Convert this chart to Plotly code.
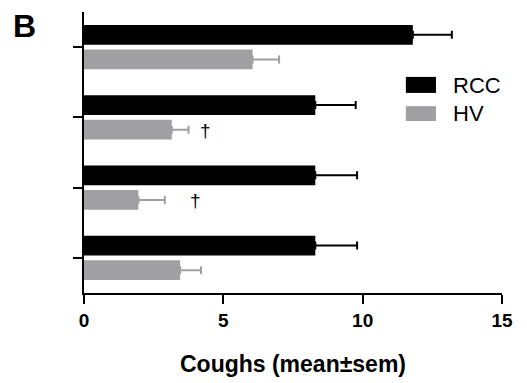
import plotly.graph_objects as go

categories = ["G1", "G2", "G3", "G4"]
rcc_mean = [11.8, 8.3, 8.3, 8.3]
rcc_sem = [1.4, 1.45, 1.5, 1.5]
hv_mean = [6.05, 3.15, 1.95, 3.45]
hv_sem = [0.95, 0.6, 0.95, 0.75]
sig_marks = ["", "†", "†", ""]
sig_x = [None, 4.35, 4.0, None]

FONT = "Arial, Liberation Sans, Helvetica, sans-serif"
GRAY = "#a0a0a2"

fig = go.Figure()
fig.add_trace(go.Bar(
    name="RCC", y=categories, x=rcc_mean, orientation="h",
    marker=dict(color="black", line=dict(width=0)),
    error_x=dict(type="data", array=rcc_sem, symmetric=False,
                 arrayminus=[0] * len(rcc_sem), color="black", thickness=2, width=4),
    showlegend=False,
))
fig.add_trace(go.Bar(
    name="HV", y=categories, x=hv_mean, orientation="h",
    marker=dict(color=GRAY, line=dict(width=0)),
    error_x=dict(type="data", array=hv_sem, symmetric=False,
                 arrayminus=[0] * len(hv_sem), color=GRAY, thickness=2, width=4),
    showlegend=False,
))

for c, m, sx in zip(categories, sig_marks, sig_x):
    if m:
        fig.add_annotation(x=sx, y=c, xref="x", yref="y", text=m, showarrow=False,
                           yshift=-13, font=dict(family=FONT, size=19, color="#000000"))

# panel letter
fig.add_annotation(x=-0.175, y=1.02, xref="paper", yref="paper", text="<b>B</b>",
                   showarrow=False, xanchor="left", yanchor="top",
                   font=dict(family=FONT, size=32, color="black"))

# legend
for name, col, y0, y1, yc in [("RCC", "black", 0.712, 0.769, 0.740),
                              ("HV", GRAY, 0.612, 0.665, 0.639)]:
    fig.add_shape(type="rect", xref="paper", yref="paper", x0=0.770, x1=0.842,
                  y0=y0, y1=y1, fillcolor=col, line=dict(width=0))
    fig.add_annotation(x=0.878, y=yc, xref="paper", yref="paper", text=name,
                       showarrow=False, xanchor="left", yanchor="middle",
                       font=dict(family=FONT, size=22, color="black"))

# page body has an 8px default margin; size the figure so the plot lands in place
fig.update_layout(
    width=519, height=375,
    margin=dict(l=76, r=25, t=4, b=90),
    paper_bgcolor="white", plot_bgcolor="white",
    barmode="group", bargap=0.3, bargroupgap=0.2,
    font=dict(family=FONT, color="black"),
    xaxis=dict(range=[0, 15], tickvals=[0, 5, 10, 15], showgrid=False, zeroline=False,
               showline=True, linecolor="black", linewidth=2,
               ticks="outside", ticklen=9, tickwidth=2, tickcolor="black",
               tickfont=dict(family=FONT, size=19, weight="bold", color="black"),
               title=dict(text="Coughs (mean±sem)", standoff=26,
                          font=dict(family=FONT, size=23, weight="bold", color="black"))),
    yaxis=dict(autorange="reversed", showgrid=False, zeroline=False,
               showline=True, linecolor="black", linewidth=2,
               ticks="outside", ticklen=9, tickwidth=2, tickcolor="black",
               showticklabels=False),
)

fig.write_html("out.html")
